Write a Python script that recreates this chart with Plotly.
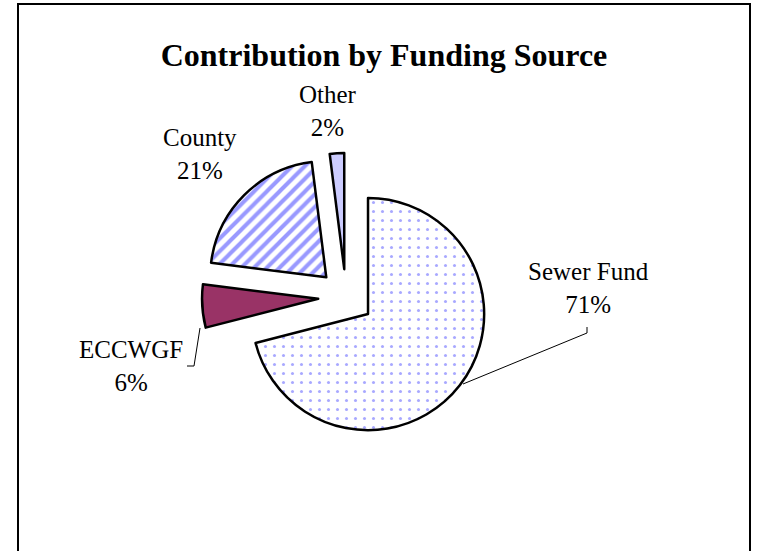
import plotly.graph_objects as go

# slice data (clockwise from 12 o'clock)
labels = ["Sewer Fund", "ECCWGF", "County", "Other"]
values = [71, 6, 21, 2]
pct_text = ["71%", "6%", "21%", "2%"]

fill_colors = ["#ffffff", "#993366", "#ffffff", "#ccccff"]
pattern_shapes = [".", "", "/", ""]
pattern_fg = ["#a8a8ff", "#993366", "#9999ff", "#ccccff"]

W, H = 758, 551
SERIF = "Liberation Serif, Times New Roman, serif"


# convert screen pixel position to paper coords
def px(x, y):
    return x / W, 1 - y / H


cx, cy = px(346, 297)
half_w, half_h = 144 / W, 144 / H

fig = go.Figure()

fig.add_trace(
    go.Pie(
        labels=labels,
        values=values,
        sort=False,
        direction='clockwise',
        rotation=0,
        pull=[0.24] * len(values),
        textinfo='none',
        hoverinfo='label+percent',
        domain=dict(x=[cx - half_w, cx + half_w], y=[cy - half_h, cy + half_h]),
        marker=dict(
            colors=fill_colors,
            line=dict(color='black', width=2.5),
            pattern=dict(
                shape=pattern_shapes,
                fgcolor=pattern_fg,
                bgcolor=fill_colors,
                size=[9, 10, 9, 10],
                solidity=[0.09, 0.3, 0.45, 0.3],
                fillmode='replace',
            ),
        ),
        showlegend=False,
    )
)

# outside labels (placed like the original chart)
label_pos = [(588, 288), (131, 366), (200, 154), (328, 111)]
annotations = []
for lab, pct, (lx, ly) in zip(labels, pct_text, label_pos):
    x, y = px(lx, ly)
    annotations.append(dict(
        text=f"{lab}<br>{pct}",
        x=x, y=y, xref='paper', yref='paper',
        xanchor='center', yanchor='middle', align='center',
        showarrow=False,
        font=dict(family=SERIF, size=25, color='black'),
    ))


# leader lines
def path(points):
    pts = [px(*p) for p in points]
    return "M " + " L ".join(f"{a},{b}" for a, b in pts)


bx0, by0 = px(18, 4)
bx1, _ = px(750, 4)
shapes = [
    dict(type='path', xref='paper', yref='paper',
         path=path([(587, 327), (587, 333), (463, 384)]),
         line=dict(color='black', width=1)),
    dict(type='path', xref='paper', yref='paper',
         path=path([(187, 366), (194, 366), (200, 328)]),
         line=dict(color='black', width=1)),
    # chart border
    dict(type='rect', xref='paper', yref='paper',
         x0=bx0, x1=bx1, y0=-0.05, y1=by0,
         line=dict(color='black', width=2)),
]

tx, ty = px(384, 55)
fig.update_layout(
    width=W,
    height=H,
    margin=dict(l=0, r=0, t=0, b=0),
    paper_bgcolor='white',
    plot_bgcolor='white',
    title=dict(
        text="<b>Contribution by Funding Source</b>",
        x=tx, xanchor='center',
        y=ty, yanchor='middle',
        font=dict(family=SERIF, size=32, color='black'),
    ),
    annotations=annotations,
    shapes=shapes,
)

# drop the default page margin so the figure sits at the window's corner
fig.write_html(
    "out.html",
    config={'displayModeBar': False},
    post_script="document.body.style.margin='0px';",
)
